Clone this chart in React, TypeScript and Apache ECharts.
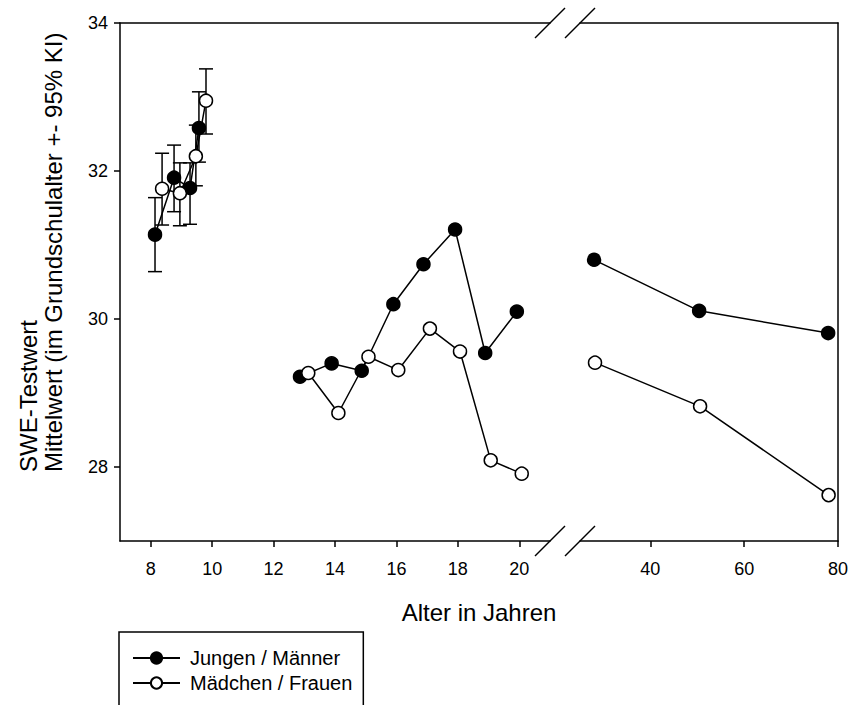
import React, { useEffect, useRef } from 'react';
import * as echarts from 'echarts';

const JUNGEN_NAME = 'Jungen / Männer';
const MAEDCHEN_NAME = 'Mädchen / Frauen';

// Grundschulalter (Mittelwert mit 95% KI)
const jungenSchoolAge = [8.14, 8.76, 9.28, 9.57];
const jungenSchoolMean = [31.14, 31.91, 31.77, 32.58];
const jungenSchoolLow = [30.64, 31.45, 31.28, 32.12];
const jungenSchoolHigh = [31.64, 32.35, 32.11, 33.07];

const maedchenSchoolAge = [8.37, 8.95, 9.47, 9.8];
const maedchenSchoolMean = [31.76, 31.7, 32.2, 32.95];
const maedchenSchoolLow = [31.27, 31.26, 31.8, 32.5];
const maedchenSchoolHigh = [32.24, 32.11, 32.62, 33.38];

// Jugendalter
const jungenTeenAge = [12.86, 13.89, 14.87, 15.9, 16.88, 17.91, 18.89, 19.92];
const jungenTeenMean = [29.22, 29.4, 29.3, 30.2, 30.74, 31.21, 29.54, 30.1];
const maedchenTeenAge = [13.13, 14.11, 15.09, 16.06, 17.09, 18.07, 19.07, 20.08];
const maedchenTeenMean = [29.27, 28.73, 29.49, 29.31, 29.87, 29.56, 28.09, 27.91];

// Erwachsene
const maennerAge = [28.0, 50.4, 77.9];
const maennerMean = [30.8, 30.11, 29.81];
const frauenAge = [28.2, 50.6, 78.0];
const frauenMean = [29.41, 28.82, 27.62];

const yTicks = [28, 30, 32, 34];
const xTicksLeft = [8, 10, 12, 14, 16, 18, 20];
const xTicksRight = [40, 60, 80];

const FONT = '"Liberation Sans", Arial, sans-serif';
const BLACK = '#000';

const zip = (xs: number[], ys: number[]) => xs.map((x, i) => [x, ys[i]]);

function buildOption() {
  const lineStyle = { color: BLACK, width: 1.5 };
  const filled = { color: BLACK, borderColor: BLACK, borderWidth: 1.5 };
  const open = { color: '#fff', borderColor: BLACK, borderWidth: 1.5 };
  const sym = 13;

  const errRows = [
    ...jungenSchoolAge.map((x, i) => [x, jungenSchoolLow[i], jungenSchoolHigh[i]]),
    ...maedchenSchoolAge.map((x, i) => [x, maedchenSchoolLow[i], maedchenSchoolHigh[i]]),
  ];

  const axisLine = { show: true, onZero: false, lineStyle: { color: BLACK, width: 1.5 } };
  const labelStyle = { color: BLACK, fontSize: 18, fontFamily: FONT };

  const mkLine = (name: string, data: number[][], grid: number, isOpen: boolean) => ({
    type: 'line',
    name,
    xAxisIndex: grid === 0 ? 0 : 2,
    yAxisIndex: grid,
    data,
    symbol: 'circle',
    symbolSize: sym,
    showSymbol: true,
    lineStyle,
    itemStyle: isOpen ? open : filled,
    z: isOpen ? 4 : 3,
    silent: true,
  });

  return {
    animation: false,
    backgroundColor: '#fff',
    textStyle: { fontFamily: FONT },
    grid: [
      { left: 120, top: 23, width: 430, height: 518 },
      { left: 580, top: 23, width: 259, height: 518 },
    ],
    xAxis: [
      {
        type: 'value', gridIndex: 0, min: 7, max: 21, position: 'bottom',
        axisLine, splitLine: { show: false },
        axisTick: { show: true, inside: false, length: 6, customValues: xTicksLeft, lineStyle: { color: BLACK, width: 1.5 } },
        axisLabel: { show: true, customValues: xTicksLeft, margin: 19, ...labelStyle },
      },
      {
        type: 'value', gridIndex: 0, min: 7, max: 21, position: 'top',
        axisLine, splitLine: { show: false }, axisTick: { show: false }, axisLabel: { show: false },
      },
      {
        type: 'value', gridIndex: 1, min: 25, max: 80, position: 'bottom',
        axisLine, splitLine: { show: false },
        axisTick: { show: true, inside: false, length: 6, customValues: xTicksRight, lineStyle: { color: BLACK, width: 1.5 } },
        axisLabel: { show: true, customValues: xTicksRight, margin: 19, ...labelStyle },
      },
      {
        type: 'value', gridIndex: 1, min: 25, max: 80, position: 'top',
        axisLine, splitLine: { show: false }, axisTick: { show: false }, axisLabel: { show: false },
      },
    ],
    yAxis: [
      {
        type: 'value', gridIndex: 0, min: 27, max: 34, position: 'left',
        axisLine, splitLine: { show: false },
        axisTick: { show: true, inside: false, length: 6, customValues: yTicks, lineStyle: { color: BLACK, width: 1.5 } },
        axisLabel: { show: true, customValues: yTicks, margin: 12, ...labelStyle },
      },
      {
        type: 'value', gridIndex: 1, min: 27, max: 34, position: 'right',
        axisLine, splitLine: { show: false }, axisTick: { show: false }, axisLabel: { show: false },
      },
    ],
    legend: {
      data: [JUNGEN_NAME, MAEDCHEN_NAME],
      orient: 'vertical',
      left: 119,
      top: 632,
      height: 50,
      itemWidth: 47,
      itemHeight: 14,
      itemGap: 5,
      padding: [16, 11, 30, 13],
      borderColor: BLACK,
      borderWidth: 1.5,
      borderRadius: 0,
      selectedMode: false,
      textStyle: { color: BLACK, fontSize: 20, fontFamily: FONT, padding: [0, 0, 0, 5] },
    },
    graphic: [
      {
        type: 'text', x: 479, y: 612,
        style: { text: 'Alter in Jahren', fontSize: 24, fontFamily: FONT, fill: BLACK, textAlign: 'center', textVerticalAlign: 'middle' },
      },
      {
        type: 'text', x: 28, y: 472, rotation: Math.PI / 2,
        style: { text: 'SWE-Testwert', fontSize: 24, fontFamily: FONT, fill: BLACK, textAlign: 'left', textVerticalAlign: 'middle' },
      },
      {
        type: 'text', x: 53, y: 472, rotation: Math.PI / 2,
        style: { text: 'Mittelwert (im Grundschulalter +- 95% KI)', fontSize: 24, fontFamily: FONT, fill: BLACK, textAlign: 'left', textVerticalAlign: 'middle' },
      },
      // axis break marks
      { type: 'rect', shape: { x: 551, y: 15, width: 28, height: 16 }, style: { fill: '#fff' }, z: 100 },
      { type: 'rect', shape: { x: 551, y: 533, width: 28, height: 16 }, style: { fill: '#fff' }, z: 100 },
      { type: 'line', shape: { x1: 535, y1: 38, x2: 565, y2: 8 }, style: { stroke: BLACK, lineWidth: 1.5 }, z: 101 },
      { type: 'line', shape: { x1: 565, y1: 38, x2: 595, y2: 8 }, style: { stroke: BLACK, lineWidth: 1.5 }, z: 101 },
      { type: 'line', shape: { x1: 535, y1: 556, x2: 565, y2: 526 }, style: { stroke: BLACK, lineWidth: 1.5 }, z: 101 },
      { type: 'line', shape: { x1: 565, y1: 556, x2: 595, y2: 526 }, style: { stroke: BLACK, lineWidth: 1.5 }, z: 101 },
    ],
    series: [
      {
        type: 'custom',
        name: 'KI',
        xAxisIndex: 0,
        yAxisIndex: 0,
        data: errRows,
        encode: { x: 0, y: [1, 2] },
        silent: true,
        z: 1,
        renderItem: (_params: any, api: any) => {
          const x = api.value(0);
          const lo = api.coord([x, api.value(1)]);
          const hi = api.coord([x, api.value(2)]);
          const w = 7;
          const style = { stroke: BLACK, lineWidth: 1.5 };
          return {
            type: 'group',
            children: [
              { type: 'line', shape: { x1: lo[0], y1: lo[1], x2: hi[0], y2: hi[1] }, style },
              { type: 'line', shape: { x1: lo[0] - w, y1: lo[1], x2: lo[0] + w, y2: lo[1] }, style },
              { type: 'line', shape: { x1: hi[0] - w, y1: hi[1], x2: hi[0] + w, y2: hi[1] }, style },
            ],
          };
        },
      },
      mkLine(JUNGEN_NAME, zip(jungenSchoolAge, jungenSchoolMean), 0, false),
      mkLine(MAEDCHEN_NAME, zip(maedchenSchoolAge, maedchenSchoolMean), 0, true),
      mkLine(JUNGEN_NAME, zip(jungenTeenAge, jungenTeenMean), 0, false),
      mkLine(MAEDCHEN_NAME, zip(maedchenTeenAge, maedchenTeenMean), 0, true),
      mkLine(JUNGEN_NAME, zip(maennerAge, maennerMean), 1, false),
      mkLine(MAEDCHEN_NAME, zip(frauenAge, frauenMean), 1, true),
    ],
  };
}

export default function App() {
  const ref = useRef<HTMLDivElement>(null);
  useEffect(() => {
    if (!ref.current) return;
    const chart = echarts.init(ref.current, null, { renderer: 'svg' });
    chart.setOption(buildOption() as any);
    return () => chart.dispose();
  }, []);
  return <div ref={ref} style={{ width: 851, height: 705, position: 'absolute', left: 0, top: 0 }} />;
}
